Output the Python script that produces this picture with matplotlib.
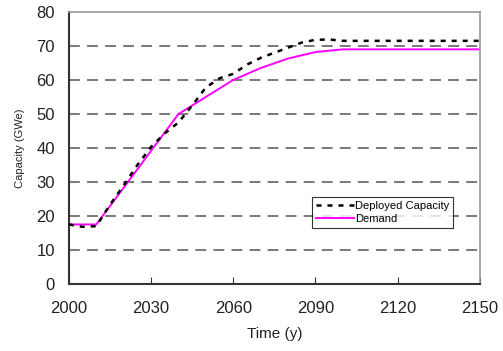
import matplotlib
matplotlib.use("Agg")
import matplotlib.pyplot as plt

# deployed capacity (dotted black)
deploy_years = [2000, 2005, 2010, 2015, 2020, 2025, 2030, 2035, 2040, 2045, 2050,
                2055, 2060, 2065, 2070, 2075, 2080, 2085, 2090, 2095, 2100, 2150]
deploy_cap = [17.5, 16.8, 17.0, 23.3, 29.0, 35.0, 40.3, 44.3, 47.5, 52.5, 57.8,
              60.5, 61.8, 64.5, 66.5, 68.0, 69.5, 71.0, 71.8, 71.9, 71.5, 71.5]

# demand (magenta)
demand_years = [2000, 2010, 2040, 2050, 2060, 2070, 2080, 2090, 2100, 2150]
demand_cap = [17.5, 17.5, 50.0, 55.0, 60.0, 63.5, 66.3, 68.2, 69.0, 69.0]

x_ticks = [2000, 2030, 2060, 2090, 2120, 2150]
y_ticks = [0, 10, 20, 30, 40, 50, 60, 70, 80]

plt.rcParams['font.family'] = ['Liberation Sans', 'DejaVu Sans']

fig, ax = plt.subplots(figsize=(5.03, 3.51), dpi=100)
fig.subplots_adjust(left=0.137, right=0.954, top=0.966, bottom=0.191)

for y in y_ticks[1:-1]:
    ax.axhline(y, color='#6e6e6e', lw=1.3, dashes=(6, 4), zorder=1)

ax.plot(deploy_years, deploy_cap, color='black', lw=1.8, dashes=(2, 2.4),
        label='Deployed Capacity', zorder=3)
ax.plot(demand_years, demand_cap, color='#ff00ff', lw=1.4,
        label='Demand', zorder=2)

ax.set_xlim(2000, 2150)
ax.set_ylim(0, 80)
ax.set_xticks(x_ticks)
ax.set_yticks(y_ticks)
ax.tick_params(axis='both', direction='in', length=5, labelsize=12,
               colors='#333333', labelcolor='#222222')
ax.tick_params(axis='x', pad=12)
ax.tick_params(axis='y', pad=10, length=0)

for side in ['left', 'bottom']:
    ax.spines[side].set_color('#333333')
    ax.spines[side].set_linewidth(1.5)
for side in ['top', 'right']:
    ax.spines[side].set_color('#999999')
    ax.spines[side].set_linewidth(1.2)

ax.set_xlabel('Time (y)', fontsize=11, labelpad=8, color='#222222')
ax.set_ylabel('Capacity (GWe)', fontsize=8, labelpad=8, color='#222222')

leg = ax.legend(loc='lower right', bbox_to_anchor=(0.935, 0.205), fontsize=8,
                frameon=True, fancybox=False, borderpad=0.35, labelspacing=0.3,
                handlelength=3.4, handletextpad=0.1, borderaxespad=0)
leg.get_frame().set_edgecolor('black')
leg.get_frame().set_linewidth(0.8)

fig.savefig('out.png', dpi=100)
